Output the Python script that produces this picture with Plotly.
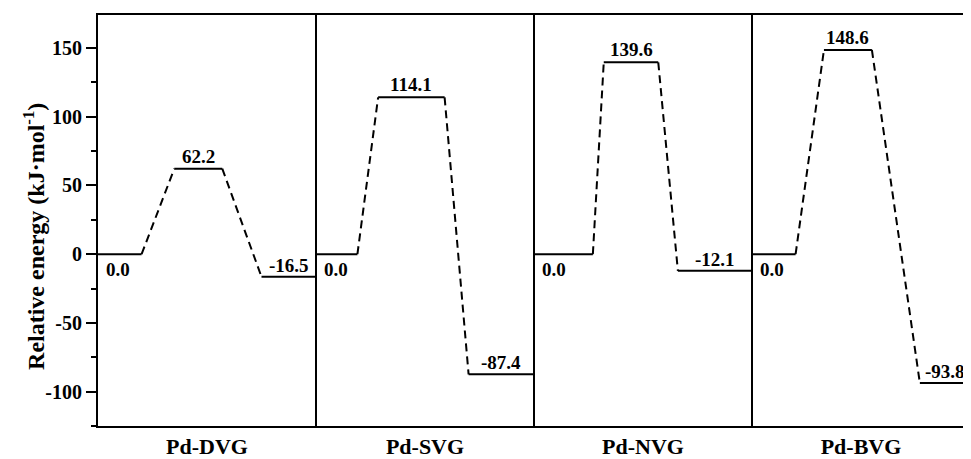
import plotly.graph_objects as go

# ---- data ----
categories = ["Pd-DVG", "Pd-SVG", "Pd-NVG", "Pd-BVG"]
reactant_energy = [0.0, 0.0, 0.0, 0.0]
ts_energy = [62.2, 114.1, 139.6, 148.6]
product_energy = [-16.5, -87.4, -12.1, -93.8]
ytick_values = [-100, -50, 0, 50, 100, 150]
ytick_labels = ["-100", "-50", "0", "50", "100", "150"]
y_title = "Relative energy (kJ·mol<sup>-1</sup>)"

# ---- layout constants (fractions of each panel) ----
spans = [
    [(0.00, 0.20), (0.35, 0.57), (0.75, 1.00)],
    [(0.00, 0.19), (0.285, 0.59), (0.70, 1.00)],
    [(0.00, 0.27), (0.32, 0.57), (0.66, 1.00)],
    [(0.00, 0.20), (0.33, 0.55), (0.77, 1.00)],
]

FONT = "Liberation Serif, Times New Roman, serif"
fig = go.Figure()
annotations = []
shapes = []

for i, cat in enumerate(categories):
    levels = [reactant_energy[i], ts_energy[i], product_energy[i]]
    sp = spans[i]
    for (a, b), v in zip(sp, levels):
        fig.add_trace(go.Scatter(x=[i + a, i + b], y=[v, v], mode="lines",
                                 line=dict(color="black", width=2),
                                 hoverinfo="skip", showlegend=False))
    for k in range(2):
        fig.add_trace(go.Scatter(x=[i + sp[k][1], i + sp[k + 1][0]],
                                 y=[levels[k], levels[k + 1]], mode="lines",
                                 line=dict(color="black", width=2, dash="8px,5px"),
                                 hoverinfo="skip", showlegend=False))
    annotations.append(dict(x=i + sp[0][0], y=levels[0], text=f"{levels[0]:.1f}",
                            xanchor="left", yanchor="top", xshift=6, yshift=-3,
                            showarrow=False, font=dict(family=FONT, size=19, color="black", weight="bold")))
    annotations.append(dict(x=i + (sp[1][0] + sp[1][1]) / 2, y=levels[1], text=f"{levels[1]:.1f}",
                            xanchor="center", yanchor="bottom", yshift=0,
                            showarrow=False, font=dict(family=FONT, size=19, color="black", weight="bold")))
    annotations.append(dict(x=i + (sp[2][0] + sp[2][1]) / 2, y=levels[2], text=f"{levels[2]:.1f}",
                            xanchor="center", yanchor="bottom", yshift=-1,
                            showarrow=False, font=dict(family=FONT, size=19, color="black", weight="bold")))
    if i > 0:
        shapes.append(dict(type="line", xref="x", yref="paper", x0=i, x1=i, y0=0, y1=1,
                           line=dict(color="black", width=2)))

# y-axis title as a rotated annotation
annotations.append(dict(xref="paper", yref="paper", x=0, y=0.46, xshift=-64,
                        xanchor="center", yanchor="middle", textangle=-90,
                        text=y_title, showarrow=False,
                        font=dict(family=FONT, size=24, color="black", weight="bold")))

fig.update_layout(
    width=963, height=451,
    margin=dict(l=90, r=1, t=7, b=33, autoexpand=False),
    plot_bgcolor="white", paper_bgcolor="white",
    shapes=shapes, annotations=annotations,
    font=dict(family=FONT, color="black"),
)
fig.update_xaxes(range=[0, len(categories)], showgrid=False, zeroline=False,
                 showline=True, mirror=True, linecolor="black", linewidth=2,
                 tickmode="array", tickvals=[i + 0.5 for i in range(len(categories))],
                 ticktext=categories, ticks="", automargin=False,
                 tickfont=dict(family=FONT, size=22, color="black", weight="bold"))
fig.update_yaxes(range=[-125, 174], showgrid=False, zeroline=False,
                 showline=True, mirror=True, linecolor="black", linewidth=2,
                 tickmode="array", tickvals=ytick_values, ticktext=ytick_labels,
                 ticks="outside", ticklen=10, tickwidth=2, tickcolor="black", automargin=False,
                 minor=dict(tickmode="linear", tick0=0, dtick=25, ticks="outside",
                            ticklen=5, tickwidth=2, tickcolor="black"),
                 tickfont=dict(family=FONT, size=20, color="black", weight="bold"))

fig.write_html("out.html")
